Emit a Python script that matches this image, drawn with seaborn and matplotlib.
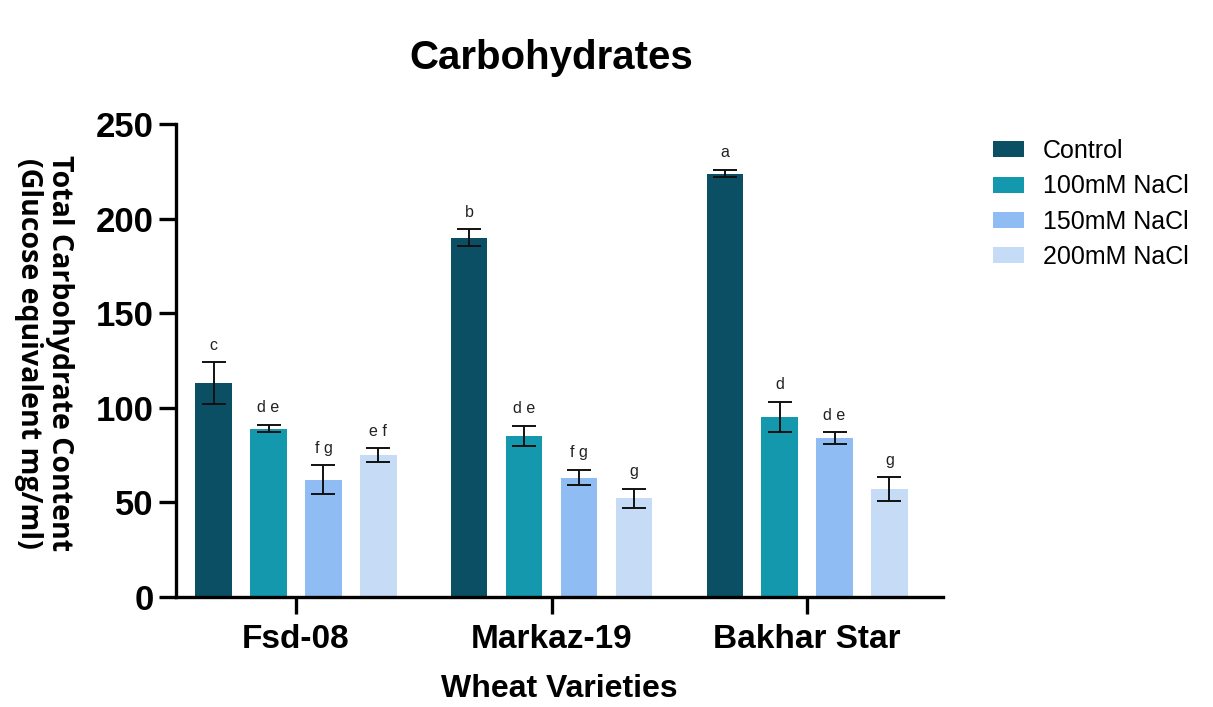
import matplotlib
matplotlib.use("Agg")
import matplotlib.pyplot as plt
import numpy as np
import pandas as pd
import seaborn as sns

# ── data ──────────────────────────────────────────────
varieties = ["Fsd-08", "Markaz-19", "Bakhar Star"]
treatments = ["Control", "100mM NaCl", "150mM NaCl", "200mM NaCl"]

control = [113, 190, 224]
nacl_100 = [89, 85, 95]
nacl_150 = [62, 63, 84]
nacl_200 = [75, 52, 57]

err_control = [11, 4.5, 2]
err_100 = [2, 5.3, 8]
err_150 = [7.5, 4, 3]
err_200 = [3.5, 5, 6.2]

letters_control = ["c", "b", "a"]
letters_100 = ["d e", "d e", "d"]
letters_150 = ["f g", "f g", "d e"]
letters_200 = ["e f", "g", "g"]

colors = ["#0a4f63", "#1498ae", "#8fbcf3", "#c6dcf6"]

values = [control, nacl_100, nacl_150, nacl_200]
errors = [err_control, err_100, err_150, err_200]
letters = [letters_control, letters_100, letters_150, letters_200]

df = pd.DataFrame({
    "variety": np.tile(varieties, len(treatments)),
    "treatment": np.repeat(treatments, len(varieties)),
    "value": np.concatenate(values),
})

# ── plot ──────────────────────────────────────────────
sns.set_theme(style="white", rc={"text.color": "black", "axes.labelcolor": "black",
                                 "xtick.color": "black", "ytick.color": "black"})
plt.rcParams["font.family"] = ["Liberation Sans", "DejaVu Sans"]

fig = plt.figure(figsize=(12.13, 7.07), dpi=100)
ax = fig.add_axes([0.145, 0.156, 0.632, 0.668])

sns.barplot(data=df, x="variety", y="value", hue="treatment",
            order=varieties, hue_order=treatments, palette=colors,
            width=0.86, gap=0.34, errorbar=None, linewidth=0,
            saturation=1, ax=ax)

for cont, errs, labs in zip(ax.containers, errors, letters):
    for bar, e, lab in zip(cont, errs, labs):
        xc = bar.get_x() + bar.get_width() / 2
        h = bar.get_height()
        ax.errorbar(xc, h, yerr=e, color="#111111", capsize=8.5,
                    elinewidth=1.4, capthick=1.4)
        ax.annotate(lab, (xc, h + e), xytext=(0, 7), textcoords="offset points",
                    ha="center", va="bottom", fontsize=11.5, color="#222222")

ax.set_xlim(-0.47, 2.53)
ax.set_ylim(0, 250)
ax.set_yticks([0, 50, 100, 150, 200, 250])

sns.despine(ax=ax)
for s in ["left", "bottom"]:
    ax.spines[s].set_linewidth(2.4)
    ax.spines[s].set_color("black")
ax.tick_params(axis="y", direction="out", length=12, width=2.4, left=True,
               labelsize=25, pad=4)
ax.tick_params(axis="x", direction="out", length=12, width=2.4, bottom=True,
               labelsize=24, pad=8)
for lbl in ax.get_xticklabels() + ax.get_yticklabels():
    lbl.set_fontweight("bold")

ax.set_xlabel("Wheat Varieties", fontsize=23, fontweight="bold", labelpad=13)
ax.set_ylabel("")
# y label reads top-to-bottom in the original
fig.text(0.036, 0.50, "Total Carbohydrate Content\n(Glucose equivalent mg/ml)",
         rotation=270, ha="center", va="center", multialignment="center",
         fontsize=20.5, fontweight="bold", linespacing=1.1,
         family=["Open Sans", "DejaVu Sans"])
ax.set_title("Carbohydrates", fontsize=29, fontweight="bold", pad=40, x=0.49)

handles, labels = ax.get_legend_handles_labels()
ax.legend(handles, labels, loc="upper left", bbox_to_anchor=(0.80, 0.835),
          bbox_transform=fig.transFigure, frameon=False, fontsize=18,
          handlelength=1.25, handleheight=0.6, handletextpad=0.75,
          labelspacing=0.45)

plt.savefig("out.png", dpi=100)
plt.close()
